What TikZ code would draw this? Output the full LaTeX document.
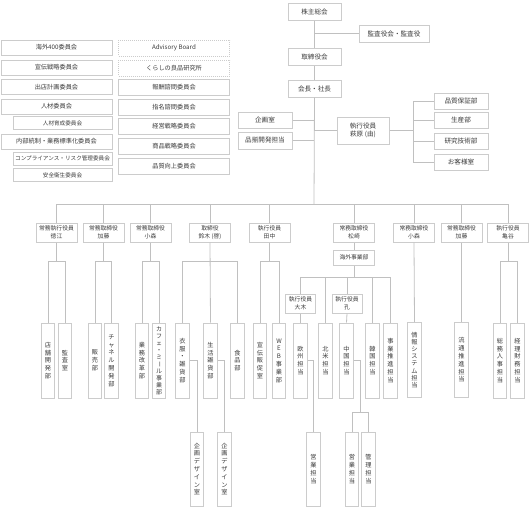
\documentclass[tikz,border=0pt]{standalone}
\usepackage{graphicx}
\usepackage{fontspec}
\setmainfont{Noto Sans CJK JP}
\usetikzlibrary{positioning}
\definecolor{boxline}{HTML}{CCCCCC}
\definecolor{linkline}{HTML}{C0C0C0}
\definecolor{ink}{HTML}{3A3A3A}

\begin{document}
\begin{tikzpicture}[x=1pt,y=-1pt,
	box/.style={draw=boxline,line width=1pt,text=ink,inner sep=0pt,align=center,font=\fontsize{6.6}{8}\selectfont},
	hbox/.style={box,minimum width=53pt,minimum height=17pt},
	cbox/.style={box,minimum width=111pt,minimum height=15pt,font=\fontsize{6.2}{8}\selectfont},
	sbox/.style={box,minimum width=99pt,minimum height=13pt,font=\fontsize{5.6}{7}\selectfont},
	abox/.style={cbox,dash pattern=on 1pt off 1pt,minimum height=16pt},
	ebox/.style={box,minimum width=41pt,minimum height=19pt,font=\fontsize{5.8}{8}\selectfont},
	vbox/.style={box,minimum width=13.5pt,minimum height=75pt,font=\fontsize{6.2}{7.8}\selectfont},
	wbox/.style={vbox,minimum height=74pt},
	link/.style={draw=linkline,line width=0.8pt}]
	\useasboundingbox (0,0) rectangle (530,507);

	% top
	\node[hbox] (kabu) at (314.5,11.5) {株主総会};
	\node[hbox,minimum width=70pt] (kansa) at (394,33.5) {監査役会・監査役};
	\node[hbox] (torishimari) at (314.5,57) {取締役会};
	\node[hbox] (shacho) at (314.5,88.5) {会長・社長};
	\node[hbox,minimum width=54pt,minimum height=16pt] (kikaku) at (265,120) {企画室};
	\node[hbox,minimum width=54pt] (shinasoroe) at (265,140.5) {品揃開発担当};
	\node[hbox,minimum width=52pt,minimum height=27pt] (hagiwara) at (363,130.5) {執行役員\\萩原 (由)};
	\node[hbox,minimum width=54pt,minimum height=16pt] (hinshitsu) at (461,101) {品質保証部};
	\node[hbox,minimum width=54pt,minimum height=16pt] (seisan) at (461,120) {生産部};
	\node[hbox,minimum width=54pt,minimum height=16pt] (kenkyu) at (461,141) {研究技術部};
	\node[hbox,minimum width=54pt,minimum height=16pt] (okyaku) at (461,162) {お客様室};

	% committees
	\node[cbox] (c_1) at (56.5,47.5) {海外400委員会};
	\node[cbox] (c_2) at (56.5,67.5) {宣伝戦略委員会};
	\node[cbox] (c_3) at (56.5,87) {出店計画委員会};
	\node[cbox] (c_4) at (56.5,106.5) {人材委員会};
	\node[sbox] (c_5) at (62.5,123) {人材育成委員会};
	\node[cbox] (c_6) at (56.5,141.5) {内部統制・業務標準化委員会};
	\node[sbox] (c_7) at (62.5,158.5) {コンプライアンス・リスク管理委員会};
	\node[sbox] (c_8) at (62.5,175) {安全衛生委員会};
	\node[abox] (a_1) at (174,48) {Advisory Board};
	\node[abox] (a_2) at (174,68) {くらしの良品研究所};
	\node[cbox,minimum height=16pt] (a_3) at (174,87) {報酬諮問委員会};
	\node[cbox,minimum height=16pt] (a_4) at (174,107) {指名諮問委員会};
	\node[cbox,minimum height=16pt] (a_5) at (174,126) {経営戦略委員会};
	\node[cbox,minimum height=16pt] (a_6) at (174,146) {商品戦略委員会};
	\node[cbox,minimum height=16pt] (a_7) at (174,166) {品質向上委員会};

	% officers
	\node[ebox] (tokue) at (56.5,232.5) {常務執行役員\\徳江};
	\node[ebox] (kato1) at (103.5,232.5) {常務取締役\\加藤};
	\node[ebox] (komori1) at (150.5,232.5) {常務取締役\\小森};
	\node[ebox] (suzuki) at (210,232.5) {取締役\\鈴木 (啓)};
	\node[ebox] (tanaka) at (269.5,232.5) {執行役員\\田中};
	\node[ebox] (matsuzaki) at (354,232.5) {常務取締役\\松崎};
	\node[ebox] (komori2) at (414,232.5) {常務取締役\\小森};
	\node[ebox] (kato2) at (461.5,232.5) {常務取締役\\加藤};
	\node[ebox] (kametani) at (508,232.5) {執行役員\\亀谷};
	\node[ebox,minimum height=15pt] (kaigai) at (354,257.5) {海外事業部};
	\node[ebox,minimum width=30pt] (oki) at (300.5,303.5) {執行役員\\大木};
	\node[ebox,minimum width=30pt] (ko) at (347,303.5) {執行役員\\孔};

	% departments
	\node[vbox] (tenpo) at (48,360.5) {店\\舗\\開\\発\\部};
	\node[vbox] (kansashitsu) at (65,360.5) {監\\査\\室};
	\node[vbox] (hanbai) at (95,360.5) {販\\売\\部};
	\node[vbox] (channel) at (111.5,360.5) {チ\\ャ\\ネ\\ル\\開\\発\\部};
	\node[vbox] (gyomu) at (142,360.5) {業\\務\\改\\革\\部};
	\node[vbox,font=\fontsize{6}{7}\selectfont] (cafe) at (159,360.5) {カ\\フ\\ェ\\・\\ミ\\\rotatebox[origin=c]{-90}{ー}\\ル\\事\\業\\部};
	\node[vbox] (ifuku) at (182.5,360.5) {衣\\服\\・\\雑\\貨\\部};
	\node[vbox] (seikatsu) at (210.5,360.5) {生\\活\\雑\\貨\\部};
	\node[vbox] (shokuhin) at (237.5,360.5) {食\\品\\部};
	\node[vbox] (senden) at (260,360.5) {宣\\伝\\販\\促\\室};
	\node[vbox] (web) at (279,360.5) {W\\E\\B\\事\\業\\部};
	\node[vbox] (oushu) at (300.5,360.5) {欧\\州\\担\\当};
	\node[vbox] (hokubei) at (325.5,360.5) {北\\米\\担\\当};
	\node[vbox] (chugoku) at (346.5,360.5) {中\\国\\担\\当};
	\node[vbox] (kankoku) at (372.5,360.5) {韓\\国\\担\\当};
	\node[vbox] (jigyo) at (390.5,360.5) {事\\業\\推\\進\\担\\当};
	\node[vbox,font=\fontsize{6.2}{7.2}\selectfont] (joho) at (414.5,360) {情\\報\\シ\\ス\\テ\\ム\\担\\当};
	\node[vbox] (ryutsu) at (461.5,360) {流\\通\\推\\進\\担\\当};
	\node[vbox] (somu) at (500,360.5) {総\\務\\人\\事\\担\\当};
	\node[vbox] (keiri) at (517.5,360.5) {経\\理\\財\\務\\担\\当};
	\node[wbox] (design1) at (197,469) {企\\画\\デ\\ザ\\イ\\ン\\室};
	\node[wbox] (design2) at (224.5,469) {企\\画\\デ\\ザ\\イ\\ン\\室};
	\node[wbox] (eigyo1) at (313.5,469) {営\\業\\担\\当};
	\node[wbox] (eigyo2) at (352,469) {営\\業\\担\\当};
	\node[wbox] (kanri) at (368.5,469) {管\\理\\担\\当};

	% connectors
	\coordinate (bus) at (314,204);
	\coordinate (lv3) at (0,261);
	\coordinate (lvk) at (0,277);
	\coordinate (hq) at (413,130.5);
	\coordinate (cs) at (360,412);
	\draw[link] (kabu) -- (torishimari);
	\draw[link] (torishimari) -- (shacho);
	\draw[link] (kansa.west) -- (kansa.west -| kabu.south);
	\draw[link] (shacho.south) -- (bus);
	\draw[link] (kikaku.east) -- (kikaku.east -| bus);
	\draw[link] (shinasoroe.east) -- (shinasoroe.east -| bus);
	\draw[link] (hagiwara.west) -- (hagiwara.west -| bus);
	\draw[link] (hagiwara.east) -- (hq);
	\draw[link] (hinshitsu.west) -- (hinshitsu.west -| hq) -- (okyaku.west -| hq) -- (okyaku.west);
	\draw[link] (seisan.west) -- (seisan.west -| hq);
	\draw[link] (kenkyu.west) -- (kenkyu.west -| hq);
	\draw[link] (tokue.north) -- (tokue.north |- bus) -- (kametani.north |- bus) -- (kametani.north);
	\foreach \n in {kato1,komori1,suzuki,tanaka,matsuzaki,komori2,kato2}
		\draw[link] (\n.north) -- (\n.north |- bus);
	\foreach \n in {tokue,kato1,komori1,tanaka,kametani}
		\draw[link] (\n.south) -- (\n.south |- lv3);
	\draw[link] (tenpo.north) |- (kansashitsu.north |- lv3) -- (kansashitsu.north);
	\draw[link] (hanbai.north) |- (channel.north |- lv3) -- (channel.north);
	\draw[link] (gyomu.north) |- (cafe.north |- lv3) -- (cafe.north);
	\draw[link] (ifuku.north) |- (shokuhin.north |- lv3) -- (shokuhin.north);
	\draw[link] (suzuki.south) -- (seikatsu.north);
	\draw[link] (senden.north) |- (web.north |- lv3) -- (web.north);
	\draw[link] (somu.north) |- (keiri.north |- lv3) -- (keiri.north);
	\draw[link] (matsuzaki.south) -- (kaigai.north);
	\draw[link] (kaigai.south) -- (kaigai.south |- lvk);
	\draw[link] (oki.north) |- (jigyo.north |- lvk) -- (jigyo.north);
	\foreach \n in {hokubei,ko,kankoku}
		\draw[link] (\n.north) -- (\n.north |- lvk);
	\draw[link] (oki.south) -- (oushu.north);
	\draw[link] (ko.south) -- (chugoku.north);
	\draw[link] (komori2.south) -- (joho.north);
	\draw[link] (kato2.south) -- (ryutsu.north);
	\draw[link] (ifuku.east) -| (design1.north);
	\draw[link] (seikatsu.east) -| (design2.north);
	\draw[link] (oushu.east) -| (eigyo1.north);
	\draw[link] (chugoku.east) -| (cs);
	\draw[link] (eigyo2.north) |- (kanri.north |- cs) -- (kanri.north);
\end{tikzpicture}
\end{document}
